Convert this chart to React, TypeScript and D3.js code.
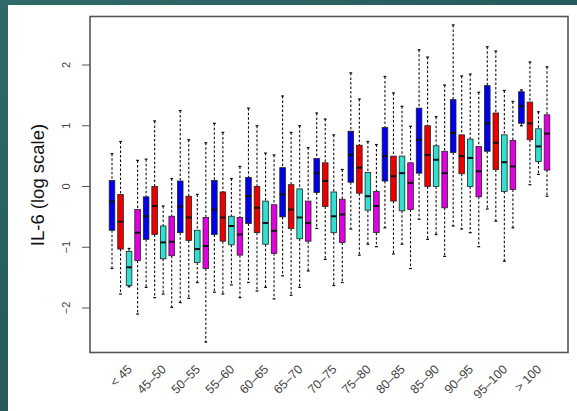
import React from "react";
import * as d3 from "d3";

const categories = ["< 45", "45–50", "50–55", "55–60", "60–65", "65–70", "70–75", "75–80", "80–85", "85–90", "90–95", "95–100", "> 100"];
const yTicks = [-2, -1, 0, 1, 2];
const seriesColors = ["#0000ee", "#ee0000", "#30e0d0", "#e000e0"];

// each entry: [whisker low, q1, median, q3, whisker high]
const blueStats: number[][] = [
  [-1.35, -0.72, -0.25, 0.1, 0.54],
  [-1.66, -0.87, -0.49, -0.17, 0.45],
  [-1.91, -0.76, -0.33, 0.09, 1.25],
  [-1.74, -0.79, -0.38, 0.1, 1.04],
  [-1.58, -0.61, -0.16, 0.15, 1.29],
  [-1.47, -0.5, -0.13, 0.31, 1.49],
  [-0.69, -0.1, 0.22, 0.46, 1.21],
  [-0.7, 0.07, 0.52, 0.91, 1.87],
  [-0.68, 0.09, 0.5, 0.97, 1.81],
  [-0.54, 0.22, 0.77, 1.29, 2.25],
  [-0.65, 0.56, 0.88, 1.43, 2.66],
  [-0.37, 0.58, 1.04, 1.66, 2.3],
  [1.0, 1.04, 1.32, 1.56, 1.59],
];
const redStats: number[][] = [
  [-1.77, -1.03, -0.58, -0.13, 0.74],
  [-1.83, -0.79, -0.32, 0.0, 1.08],
  [-1.84, -0.89, -0.51, -0.16, 0.77],
  [-1.77, -0.9, -0.51, -0.09, 0.89],
  [-1.72, -0.76, -0.35, 0.0, 1.0],
  [-1.79, -0.69, -0.38, 0.03, 0.89],
  [-1.2, -0.33, 0.09, 0.39, 1.11],
  [-1.13, -0.11, 0.31, 0.68, 1.44],
  [-1.11, -0.24, 0.17, 0.5, 1.54],
  [-0.87, 0.0, 0.52, 1.0, 2.13],
  [-0.7, 0.21, 0.5, 0.85, 1.82],
  [-0.57, 0.28, 0.72, 1.21, 2.23],
  [0.03, 0.77, 1.04, 1.39, 2.05],
];
const cyanStats: number[][] = [
  [-1.65, -1.63, -1.33, -1.07, -1.02],
  [-1.77, -1.19, -0.92, -0.65, -0.32],
  [-1.58, -1.25, -1.03, -0.72, -0.13],
  [-1.62, -0.96, -0.65, -0.49, 0.13],
  [-1.66, -0.95, -0.6, -0.24, 0.55],
  [-1.66, -0.86, -0.51, -0.04, 1.0],
  [-1.63, -0.76, -0.49, -0.09, 0.85],
  [-0.95, -0.39, -0.16, 0.23, 0.74],
  [-0.95, -0.4, 0.22, 0.5, 1.32],
  [-0.79, 0.0, 0.44, 0.67, 1.15],
  [-0.76, 0.0, 0.47, 0.78, 1.85],
  [-1.23, -0.08, 0.4, 0.85, 1.58],
  [0.2, 0.41, 0.66, 0.95, 1.23],
];
const magentaStats: number[][] = [
  [-2.1, -1.22, -0.76, -0.38, 0.43],
  [-1.99, -1.14, -0.91, -0.49, 0.13],
  [-2.56, -1.35, -0.98, -0.51, 0.72],
  [-1.83, -1.13, -0.79, -0.51, 0.33],
  [-1.85, -1.1, -0.73, -0.3, 0.52],
  [-1.39, -0.9, -0.6, -0.24, 0.64],
  [-1.58, -0.92, -0.46, -0.21, 0.28],
  [-0.99, -0.76, -0.32, -0.08, 0.69],
  [-1.35, -0.38, 0.06, 0.39, 0.99],
  [-1.15, -0.35, 0.22, 0.58, 1.67],
  [-0.99, -0.17, 0.25, 0.66, 1.55],
  [-0.68, -0.05, 0.33, 0.76, 1.4],
  [-0.16, 0.27, 0.87, 1.18, 1.97],
];

const allSeries = [blueStats, redStats, cyanStats, magentaStats];

export default function App() {
  const W = 577, H = 411;
  const frame = { left: 90, right: 568, top: 16.5, bottom: 352.5 };
  const x = d3.scaleLinear().domain([0, 51]).range([112, 547]);
  const y = d3.scaleLinear().domain([-2, 2]).range([308, 65]);
  const boxW = 5.6;
  const stapleW = 2.8;

  const boxes: React.ReactNode[] = [];
  categories.forEach((_, g) => {
    allSeries.forEach((series, s) => {
      const [lo, q1, med, q3, hi] = series[g];
      const cx = x(g * 4 + s);
      const key = `${g}-${s}`;
      boxes.push(
        <g key={key}>
          <line x1={cx} x2={cx} y1={y(hi)} y2={y(q3)} stroke="#111" strokeWidth={1.1} strokeDasharray="2.5,2" />
          <line x1={cx} x2={cx} y1={y(q1)} y2={y(lo)} stroke="#111" strokeWidth={1.1} strokeDasharray="2.5,2" />
          <line x1={cx - stapleW / 2} x2={cx + stapleW / 2} y1={y(hi)} y2={y(hi)} stroke="#111" strokeWidth={1.3} />
          <line x1={cx - stapleW / 2} x2={cx + stapleW / 2} y1={y(lo)} y2={y(lo)} stroke="#111" strokeWidth={1.3} />
          <rect x={cx - boxW / 2} y={y(q3)} width={boxW} height={y(q1) - y(q3)} fill={seriesColors[s]} stroke="#222" strokeWidth={0.8} />
          <line x1={cx - boxW / 2} x2={cx + boxW / 2} y1={y(med)} y2={y(med)} stroke="#111" strokeWidth={2} />
        </g>
      );
    });
  });

  return (
    <svg width={W} height={H} style={{ position: "absolute", left: 0, top: 0, fontFamily: "Liberation Sans, Arial, sans-serif" }}>
      <defs>
        <linearGradient id="bgGrad" x1="0" y1="0" x2="1" y2="1">
          <stop offset="0" stopColor="#2f6a68" />
          <stop offset="1" stopColor="#1d4a50" />
        </linearGradient>
      </defs>
      <rect x={0} y={0} width={W} height={H} fill="url(#bgGrad)" />
      <rect x={8} y={5} width={W - 8} height={H - 5} fill="#ffffff" />
      {boxes}
      <rect x={frame.left} y={frame.top} width={frame.right - frame.left} height={frame.bottom - frame.top} fill="none" stroke="#555" strokeWidth={1.6} />
      {yTicks.map((t) => (
        <g key={t}>
          <line x1={frame.left - 8} x2={frame.left} y1={y(t)} y2={y(t)} stroke="#555" strokeWidth={1} />
          <text x={0} y={0} transform={`translate(70,${y(t)}) rotate(-90)`} textAnchor="middle" fontSize={11} fill="#444">
            {t < 0 ? `−${Math.abs(t)}` : `${t}`}
          </text>
        </g>
      ))}
      <text transform={`translate(44,${185}) rotate(-90)`} textAnchor="middle" fontSize={18.5} fill="#111" fontWeight={500}>IL-6 (log scale)</text>
      {categories.map((c, g) => {
        const cx = (x(g * 4) + x(g * 4 + 3)) / 2 + 8;
        return (
          <text key={c} transform={`translate(${cx},370) rotate(-45)`} textAnchor="end" fontSize={12.5} fill="#444">{c}</text>
        );
      })}
    </svg>
  );
}
